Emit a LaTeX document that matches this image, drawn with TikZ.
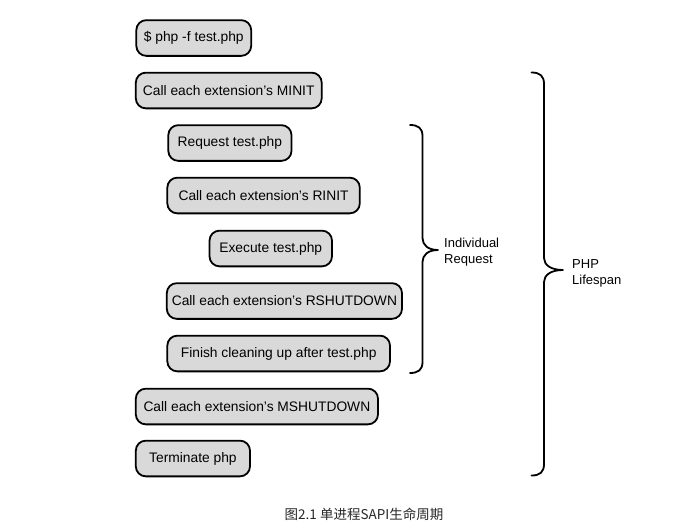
\documentclass[tikz,border=0pt]{standalone}
\usepackage{fontspec}
\setmainfont{Liberation Sans}
\newfontfamily\cjk{Noto Sans CJK SC}
\definecolor{boxgray}{RGB}{217,217,217}
\definecolor{captiongray}{RGB}{40,40,40}
\begin{document}
\begin{tikzpicture}[x=1pt,y=-1pt,
  stepbox/.style={draw=black, line width=1.8pt, fill=boxgray, rounded corners=10pt,
    minimum height=35.7pt, inner xsep=4pt, inner ysep=0pt, anchor=west,
    font=\fontsize{13.8}{16}\selectfont},
  bracelabel/.style={inner sep=0pt, anchor=base west, font=\fontsize{13}{16}\selectfont},
  bracepath/.style={draw=black, line width=1.8pt, line cap=round, line join=round}]
\useasboundingbox[fill=white] (0,0) rectangle (676,522);

\node[stepbox, minimum width=114.9pt] (b1) at (135.4,38)   {\$ php -f test.php};
\node[stepbox, minimum width=185.9pt] (b2) at (134.9,90.5) {Call each extension's MINIT};
\node[stepbox, minimum width=123.2pt] (b3) at (167.4,143)  {Request test.php};
\node[stepbox, minimum width=192.5pt] (b4) at (166.4,195.5){Call each extension's RINIT};
\node[stepbox, minimum width=122.5pt] (b5) at (208.6,248.5){Execute test.php};
\node[stepbox, minimum width=235.2pt] (b6) at (165.9,301)  {Call each extension's RSHUTDOWN};
\node[stepbox, minimum width=222.7pt] (b7) at (166.4,353.5){Finish cleaning up after test.php};
\node[stepbox, minimum width=242.2pt] (b8) at (134.9,406.5){Call each extension's MSHUTDOWN};
\node[stepbox, minimum width=114.2pt] (b9) at (134.9,458.5){Terminate php};

% inner brace
\draw[bracepath] (410,125) .. controls (418,125) and (422.5,128) .. (422.5,136)
  -- (422.5,238) .. controls (422.5,245) and (428,250) .. (438,250)
  .. controls (428,250) and (422.5,255) .. (422.5,262)
  -- (422.5,362) .. controls (422.5,370) and (418,373) .. (410,373);
\node[bracelabel] (ir1) at (444,247) {Individual};
\node[bracelabel] (ir2) at (444,263) {Request};

% outer brace
\draw[bracepath] (531.5,72.5) .. controls (540,72.5) and (544,76) .. (544,84)
  -- (544,258) .. controls (544,265) and (551,270) .. (563,270)
  .. controls (551,270) and (544,275) .. (544,282)
  -- (544,464) .. controls (544,472) and (540,475.5) .. (531.5,475.5);
\node[bracelabel] (pl1) at (572,268) {PHP};
\node[bracelabel] (pl2) at (572,284.5) {Lifespan};

\node[font=\cjk\fontsize{13.5}{16}\selectfont, text=captiongray, inner sep=0pt] (cap) at (364,514) {图2.1 单进程SAPI生命周期};
\end{tikzpicture}
\end{document}
